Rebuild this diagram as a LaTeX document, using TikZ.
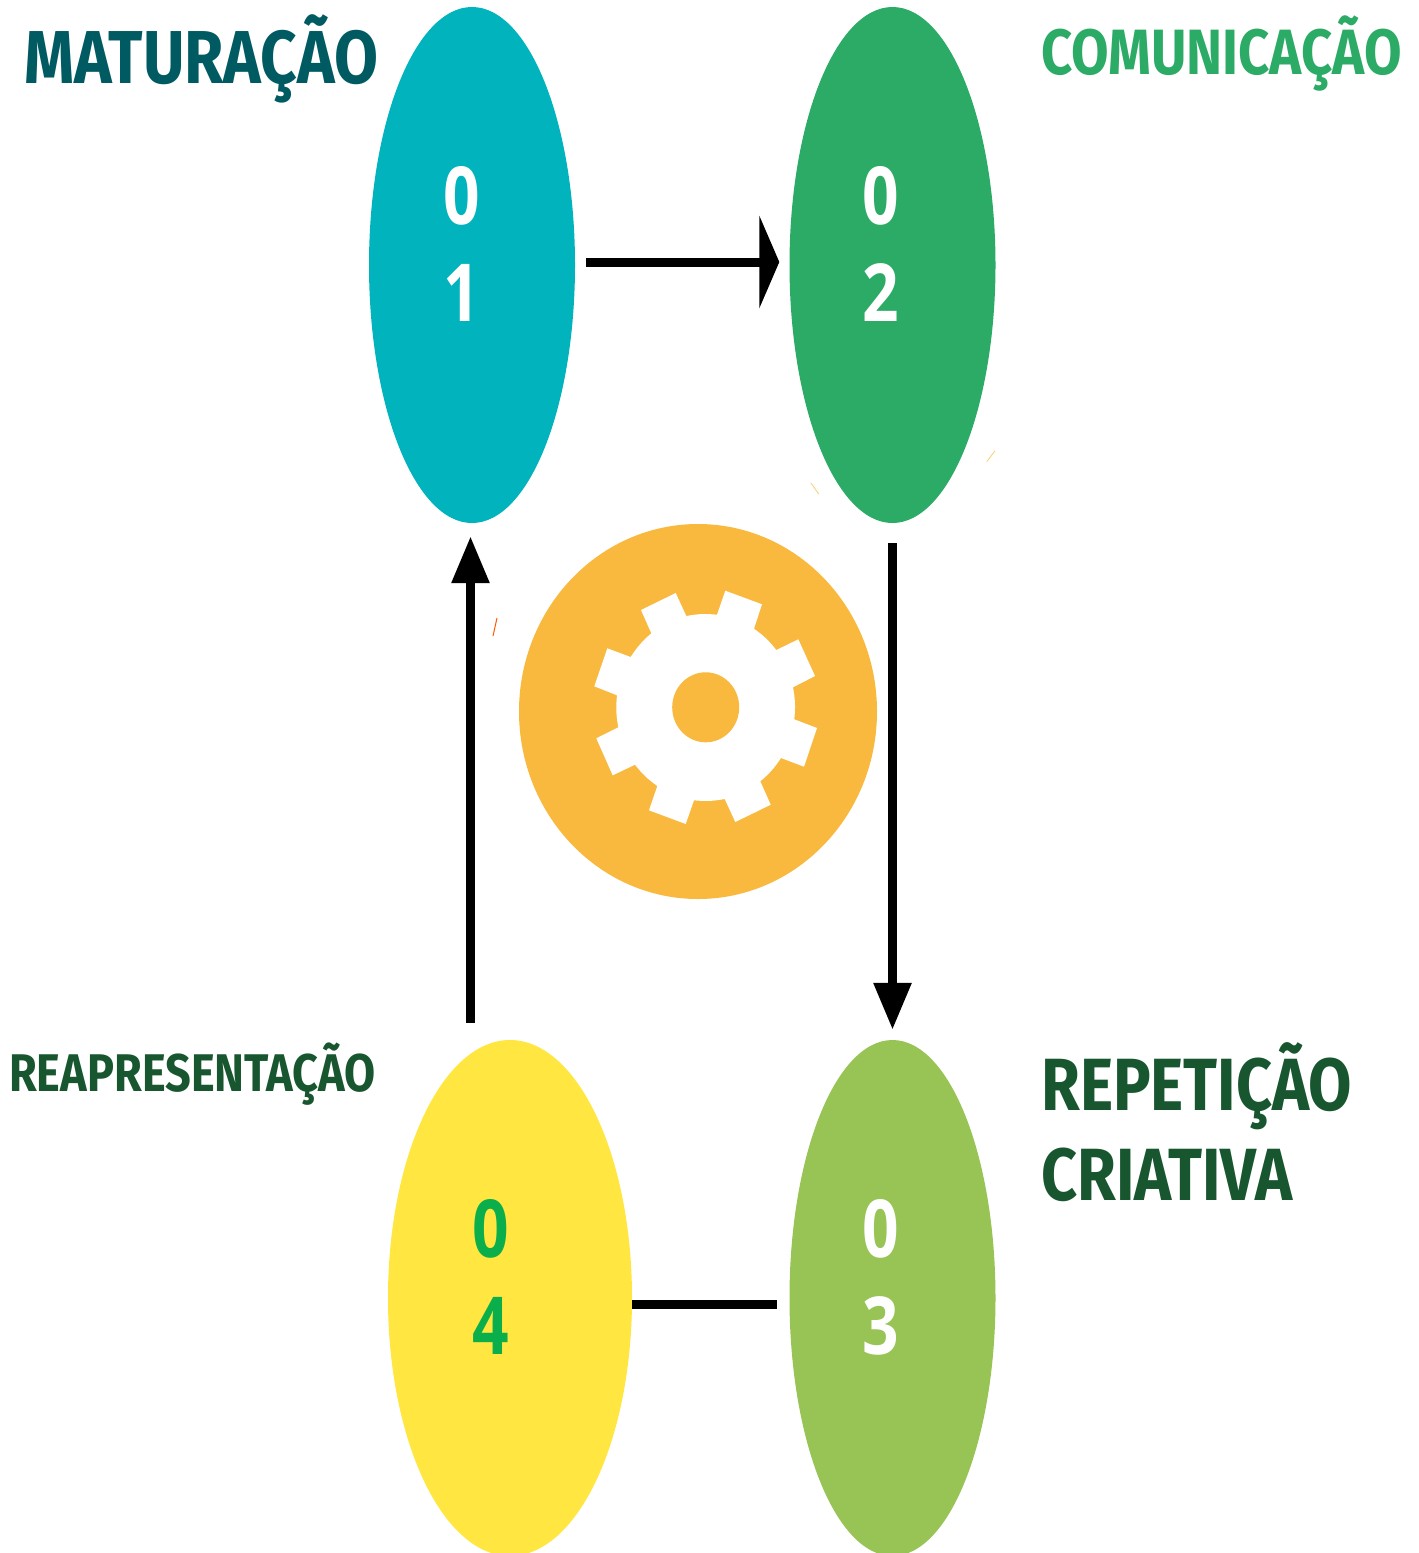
\documentclass[tikz,border=0pt]{standalone}
\usepackage{fontspec}
\usetikzlibrary{arrows.meta,shapes.geometric,positioning}
\newfontfamily\labelfont[FakeStretch=0.85]{Fira Sans}
\newfontfamily\digitfont[FakeStretch=0.8]{Open Sans}
\definecolor{tealdot}{HTML}{00B3BD}
\definecolor{greendot}{HTML}{2BAB66}
\definecolor{olivedot}{HTML}{98C355}
\definecolor{yellowdot}{HTML}{FFE640}
\definecolor{orangedot}{HTML}{F9B83E}
\definecolor{tealtext}{HTML}{005A61}
\definecolor{darkgreen}{HTML}{17562F}
\definecolor{brightgreen}{HTML}{0AAE4B}
\tikzset{>=latex}
\tikzset{
	dot/.style={ellipse,minimum width=206pt,minimum height=516pt,inner sep=0pt,fill=#1},
	num/.style={font=\digitfont\bfseries\fontsize{80}{97}\selectfont,align=center,text=white,inner sep=0pt},
	stage/.style={anchor=base west,inner sep=0pt,font=\labelfont\bfseries\fontsize{#1}{#1}\selectfont},
	flow/.style={line width=9pt,draw=black},
	tipflat/.style={-{Triangle[length=20pt,width=92pt]}},
	tiptall/.style={-{Triangle[length=47pt,width=36pt]}},
}
\begin{document}
\begin{tikzpicture}[x=1pt,y=-1pt]
	\useasboundingbox (0,0) rectangle (1419,1553);
	\node[dot=tealdot] (dot1) at (472,265) {};
	\node[dot=greendot] (dot2) at (892.5,265) {};
	\node[dot=olivedot] (dot3) at (892.5,1298) {};
	\node[dot=yellowdot,minimum width=244pt] (dot4) at (510,1298) {};
	\node[ellipse,fill=orangedot,minimum width=358pt,minimum height=375pt,inner sep=0pt] (hub) at (698,711.5) {};
	% gear
	\fill[white] (641,610) -- (675.7,593) -- (686.3,616) to[bend left=8] (717,614.7) -- (725.3,590.7) -- (762,604.3) -- (754,628.7) to[bend left=8] (776.3,650) -- (798.3,639.3) -- (815,676) -- (793,687.3) to[bend left=8] (794.3,719.3) -- (817,728) -- (804,766.7) -- (781,758) to[bend left=8] (760.3,781.3) -- (770.7,804.7) -- (735.3,822) -- (724.7,799) to[bend left=8] (694,800.3) -- (685.7,824) -- (649,810.3) -- (657.3,786) to[bend left=8] (635,764.7) -- (612.7,775.3) -- (596.3,738.3) -- (618.3,727.3) to[bend left=8] (617,695.3) -- (594.3,686.3) -- (607.3,648.3) -- (630.7,657) to[bend left=8] (651.3,633.3) -- cycle;
	\fill[orangedot] (705.7,707.3) ellipse [x radius=33.5,y radius=35];
	\draw[orangedot!60,line width=1pt] (986.7,461.7)--(995,450.7) (811,483)--(818.7,494);
	\draw[orange!70!red,line width=1pt] (497,618)--(493,636);
	% connectors
	\draw[flow,tipflat,shorten <=11pt,shorten >=10pt] ([yshift=3pt]dot1.east) -- ([yshift=3pt]dot2.west);
	\draw[flow,tiptall,shorten <=20pt,shorten >=10pt] (dot2.south) -- (dot3.north);
	\draw[flow,shorten >=12pt] ([yshift=-6.5pt]dot4.east) -- ([yshift=-6.5pt]dot3.west);
	\draw[flow,tiptall] ([xshift=-39.5pt,yshift=17pt]dot4.north) -- ([xshift=-1.5pt,yshift=-13pt]dot1.south);
	% numbers
	\node[num] (num1) at (462,244) {0\\1};
	\node[num] (num2) at (881,244) {0\\2};
	\node[num] (num3) at (881,1277) {0\\3};
	\node[num,text=brightgreen] (num4) at (491,1277) {0\\4};
	% labels
	\node[stage=75,text=tealtext] (lab1) at (24,83) {MATURAÇÃO};
	\node[stage=64,text=greendot] (lab2) at (1041,74) {COMUNICAÇÃO};
	\node[stage=74,text=darkgreen] (lab3) at (1041,1110) {REPETIÇÃO};
	\node[stage=74,text=darkgreen] (lab3b) at (1041,1200) {CRIATIVA};
	\node[stage=53,text=darkgreen] (lab4) at (9,1091) {REAPRESENTAÇÃO};
\end{tikzpicture}
\end{document}
